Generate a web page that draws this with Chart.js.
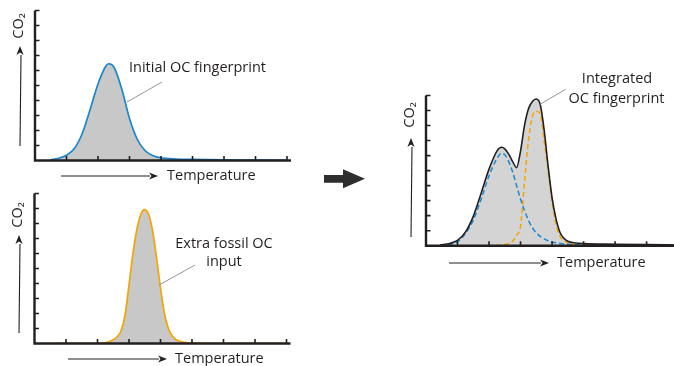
<!DOCTYPE html>
<html><head><meta charset="utf-8">
<script src="https://cdn.jsdelivr.net/npm/chart.js@4"></script>
<style>
html,body{margin:0;padding:0;background:#fff;width:674px;height:366px;overflow:hidden}
canvas{position:absolute;left:0;top:0}
</style></head>
<body>
<canvas id="c1" width="674" height="366"></canvas>
<canvas id="c2" width="674" height="366"></canvas>
<canvas id="c3" width="674" height="366"></canvas>
<script>
// ---- tick labels (unlabelled tick marks) ----
const xTicks = [1, 2, 3, 4, 5, 6, 7, 8];
const yTicks = [1, 2, 3, 4, 5, 6, 7, 8, 9, 10];

// ---- text ----
const xAxisLabel = 'Temperature';
const yAxisLabel = 'CO\u2082';
const label1 = ['Initial OC fingerprint'];
const label2 = ['Extra fossil OC', 'input'];
const label3 = ['Integrated', 'OC fingerprint'];

// ---- panel 1: initial OC fingerprint ----
const temp1 = [0.5, 0.75, 1.0, 1.25, 1.5, 1.75, 2.0, 2.25, 2.33, 2.5, 2.75, 3.0, 3.25, 3.5, 3.75, 4.0, 4.5, 5, 6, 7, 8];
const initialOC = [0.05, 0.15, 0.35, 0.8, 1.8, 3.4, 5.1, 6.3, 6.45, 6.25, 4.8, 2.8, 1.4, 0.65, 0.32, 0.18, 0.1, 0.07, 0.04, 0.03, 0.02];

// ---- panel 2: extra fossil OC input ----
const temp2 = [0.5, 1, 1.5, 2.0, 2.25, 2.5, 2.625, 2.75, 2.875, 3.0, 3.125, 3.25, 3.375, 3.49, 3.625, 3.75, 3.875, 4.0, 4.125, 4.25, 4.375, 4.5, 4.75, 5, 6, 7, 8];
const fossilOC = [0, 0, 0, 0, 0.05, 0.25, 0.45, 0.85, 1.9, 3.9, 6.0, 7.6, 8.6, 8.93, 8.6, 7.5, 5.7, 3.7, 2.0, 1.0, 0.5, 0.25, 0.08, 0.02, 0, 0, 0];

// ---- panel 3: integrated fingerprint ----
const temp3 = [0.45, 0.75, 1.0, 1.25, 1.5, 1.75, 2.0, 2.25, 2.4, 2.5, 2.625, 2.75, 2.875, 3.0, 3.125, 3.25, 3.375, 3.5, 3.625, 3.75, 3.875, 4.0, 4.125, 4.25, 4.375, 4.5, 4.75, 5, 6, 7, 7.87];
const integratedOC = [0.05, 0.15, 0.35, 0.9, 1.95, 3.5, 5.1, 6.3, 6.55, 6.45, 6.1, 5.6, 5.2, 6.3, 8.0, 9.1, 9.6, 9.77, 9.4, 7.7, 5.3, 3.2, 1.8, 0.9, 0.5, 0.3, 0.18, 0.14, 0.1, 0.07, 0.05];
const initialPart = [0.05, 0.1, 0.25, 0.8, 1.7, 3.1, 4.65, 5.8, 6.15, 6.05, 5.6, 4.9, 4.0, 3.1, 2.35, 1.7, 1.2, 0.85, 0.62, 0.45, 0.33, 0.25, 0.19, 0.15, 0.12, 0.1, 0.08, 0.06, 0.03, 0.02, 0.02];
const fossilPart = [0, 0, 0, 0, 0, 0, 0, 0.02, 0.04, 0.08, 0.15, 0.3, 0.7, 1.3, 4.2, 7.0, 8.6, 8.95, 8.8, 7.0, 5.0, 3.0, 1.4, 0.65, 0.33, 0.18, 0.07, 0.03, 0.02, 0.02, 0.02];

const pts = (xs, ys) => xs.map((x, i) => ({ x: x, y: ys[i] }));

const INK = '#231f20';
const BLUE = '#1a87cf';
const ORANGE = '#f5a400';
const FONT = '14.5px "Open Sans", "Noto Sans", sans-serif';

const decoPlugin = {
  id: 'deco',
  afterDatasetsDraw(chart, args, opts) {
    const ctx = chart.ctx;
    const xs = chart.scales.x, ys = chart.scales.y;
    const x0 = xs.getPixelForValue(0), y0 = ys.getPixelForValue(0);
    const yTop = ys.getPixelForValue(ys.max), xEnd = xs.getPixelForValue(xs.max);
    ctx.save();
    ctx.strokeStyle = INK; ctx.fillStyle = INK;
    // axes
    ctx.lineWidth = 2.4;
    ctx.beginPath();
    ctx.moveTo(x0, yTop); ctx.lineTo(x0, y0 + 1.2);
    ctx.moveTo(x0 - 1.2, y0); ctx.lineTo(xEnd + 4, y0);
    ctx.stroke();
    ctx.lineWidth = 1.6;
    ctx.beginPath();
    yTicks.forEach(v => { const y = ys.getPixelForValue(v); ctx.moveTo(x0, y); ctx.lineTo(x0 + 4.5, y); });
    xTicks.forEach(v => { if (v > xs.max) return; const x = xs.getPixelForValue(v); ctx.moveTo(x, y0); ctx.lineTo(x, y0 - 4.5); });
    ctx.stroke();
    // leader lines
    ctx.strokeStyle = '#8a8a8a'; ctx.lineWidth = 0.9;
    (opts.lines || []).forEach(l => { ctx.beginPath(); ctx.moveTo(l[0], l[1]); ctx.lineTo(l[2], l[3]); ctx.stroke(); });
    // arrows
    ctx.strokeStyle = INK; ctx.lineWidth = 1.1;
    (opts.arrows || []).forEach(a => {
      const [x1, y1, x2, y2] = a;
      const ang = Math.atan2(y2 - y1, x2 - x1), L = 9, W = 3.6;
      const bx = x2 - L * Math.cos(ang), by = y2 - L * Math.sin(ang);
      ctx.beginPath(); ctx.moveTo(x1, y1); ctx.lineTo(bx + 1, by); ctx.stroke();
      ctx.beginPath();
      ctx.moveTo(x2, y2);
      ctx.lineTo(bx - W * Math.sin(ang), by + W * Math.cos(ang));
      ctx.lineTo(bx + 2.5 * Math.cos(ang), by + 2.5 * Math.sin(ang));
      ctx.lineTo(bx + W * Math.sin(ang), by - W * Math.cos(ang));
      ctx.closePath(); ctx.fill();
    });
    // polygons
    ctx.fillStyle = '#2e2e2e';
    (opts.polys || []).forEach(p => {
      ctx.beginPath(); ctx.moveTo(p[0][0], p[0][1]);
      for (let i = 1; i < p.length; i++) ctx.lineTo(p[i][0], p[i][1]);
      ctx.closePath(); ctx.fill();
    });
    // texts
    ctx.fillStyle = INK; ctx.font = FONT; ctx.textBaseline = 'middle';
    (opts.texts || []).forEach(t => {
      ctx.save();
      ctx.translate(t.x, t.y);
      if (t.rot) ctx.rotate(-Math.PI / 2);
      ctx.textAlign = t.align || 'center';
      ctx.fillText(t.t, 0, 0);
      ctx.restore();
    });
    ctx.restore();
  }
};

function makeChart(id, datasets, xMax, pad, deco) {
  return new Chart(document.getElementById(id), {
    type: 'line',
    data: { datasets: datasets },
    options: {
      responsive: false, animation: false, devicePixelRatio: 1,
      layout: { padding: pad },
      elements: { point: { radius: 0 }, line: { cubicInterpolationMode: 'monotone', borderJoinStyle: 'round' } },
      scales: {
        x: { type: 'linear', min: 0, max: xMax, display: false },
        y: { type: 'linear', min: 0, max: 10, display: false }
      },
      plugins: { legend: { display: false }, tooltip: { enabled: false }, filler: { drawTime: 'beforeDatasetsDraw' }, deco: deco }
    },
    plugins: [decoPlugin]
  });
}

makeChart('c1', [
  { data: pts(temp1, initialOC), borderColor: BLUE, borderWidth: 1.7, fill: 'origin', backgroundColor: '#c8c8c8' }
], 8, { left: 35, right: 387, top: 10.5, bottom: 205.5 }, {
  texts: [
    { t: label1[0], x: 129, y: 68, align: 'left' },
    { t: xAxisLabel, x: 167, y: 176, align: 'left' },
    { t: yAxisLabel, x: 19, y: 26, rot: true }
  ],
  lines: [[162, 82, 127, 102]],
  arrows: [[61, 176, 158, 176], [20, 146, 20, 46]]
});

makeChart('c2', [
  { data: pts(temp2, fossilOC), borderColor: ORANGE, borderWidth: 1.7, fill: 'origin', backgroundColor: '#c8c8c8' }
], 8, { left: 34.5, right: 387.5, top: 193.5, bottom: 22.5 }, {
  texts: [
    { t: label2[0], x: 224, y: 244 },
    { t: label2[1], x: 224, y: 262 },
    { t: xAxisLabel, x: 175, y: 359, align: 'left' },
    { t: yAxisLabel, x: 18, y: 215, rot: true }
  ],
  lines: [[195, 265, 159, 285]],
  arrows: [[68, 359, 167, 359], [19, 333, 19, 235]]
});

makeChart('c3', [
  { data: pts(temp3, integratedOC), borderColor: INK, borderWidth: 1.6, fill: 'origin', backgroundColor: '#d4d4d4' },
  { data: pts(temp3, initialPart), borderColor: BLUE, borderWidth: 1.5, borderDash: [5, 3], fill: false },
  { data: pts(temp3, fossilPart), borderColor: ORANGE, borderWidth: 1.5, borderDash: [5, 3], fill: false }
], 7.87, { left: 426, right: 0, top: 95.5, bottom: 120.3 }, {
  texts: [
    { t: label3[0], x: 617, y: 79 },
    { t: label3[1], x: 616.5, y: 99 },
    { t: xAxisLabel, x: 557, y: 263, align: 'left' },
    { t: yAxisLabel, x: 410, y: 115, rot: true }
  ],
  lines: [[565.7, 89.3, 540, 104.3]],
  arrows: [[449, 263, 549, 263], [411, 237, 411, 138]],
  polys: [[[324, 175], [343, 175], [343, 169.3], [365, 178.8], [343, 188.3], [343, 182.7], [324, 182.7]]]
});
</script>
</body></html>
